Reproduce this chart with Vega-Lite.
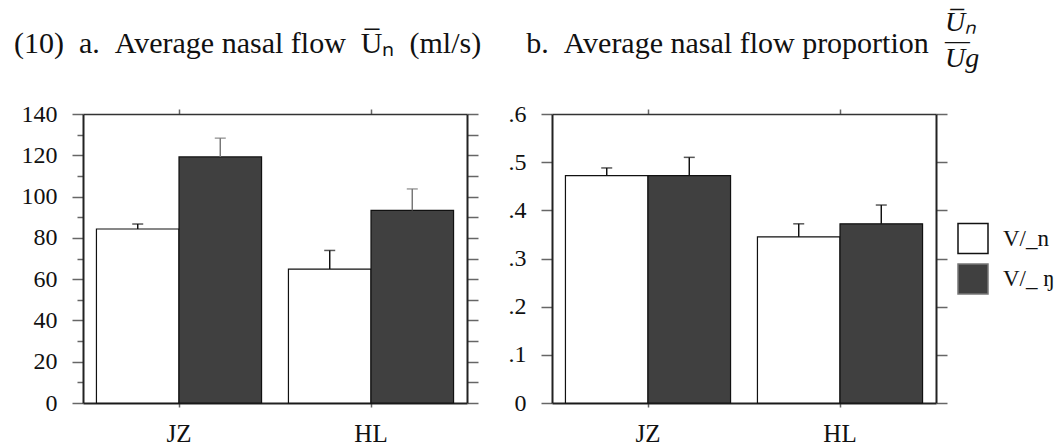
{
  "$schema": "https://vega.github.io/schema/vega-lite/v6.json",
  "background": "white",
  "padding": {"left": 14, "top": 8, "right": 5, "bottom": 0},
  "config": {
    "font": "Liberation Serif",
    "view": {"stroke": null},
    "legend": {"titleFont": "Liberation Serif", "labelFont": "Liberation Serif"},
    "axis": {
      "labelFont": "Liberation Serif",
      "labelColor": "#111",
      "domainColor": "#222",
      "domainWidth": 2,
      "tickColor": "#666",
      "tickWidth": 1.5,
      "grid": false,
      "title": null
    }
  },
  "title": {
    "text": "(10)\u00a0\u00a0a.\u00a0\u00a0Average nasal flow\u00a0\u00a0U\u0305\u2099\u00a0\u00a0(ml/s)\u00a0\u00a0\u00a0\u00a0\u00a0\u00a0b.\u00a0\u00a0Average nasal flow proportion",
    "anchor": "start",
    "font": "Liberation Serif",
    "fontSize": 30,
    "fontWeight": "normal",
    "color": "#111",
    "offset": -50,
    "dx": -7
  },
  "datasets": {
    "flow": [
      {"site": "JZ", "series": "V/_n", "mean": 84.3, "upper": 86.7},
      {"site": "JZ", "series": "V/_ ŋ", "mean": 119.2, "upper": 128.3},
      {"site": "HL", "series": "V/_n", "mean": 64.9, "upper": 73.9},
      {"site": "HL", "series": "V/_ ŋ", "mean": 93.3, "upper": 103.7}
    ],
    "prop": [
      {"site": "JZ", "series": "V/_n", "mean": 0.472, "upper": 0.488},
      {"site": "JZ", "series": "V/_ ŋ", "mean": 0.472, "upper": 0.51},
      {"site": "HL", "series": "V/_n", "mean": 0.345, "upper": 0.372},
      {"site": "HL", "series": "V/_ ŋ", "mean": 0.372, "upper": 0.411}
    ]
  },
  "spacing": 29,
  "hconcat": [
    {
      "width": 384,
      "height": 289,
      "data": {"name": "flow"},
      "resolve": {"axis": {"x": "independent", "y": "independent"}},
      "layer": [
        {
          "mark": {"type": "bar", "stroke": "#111", "strokeWidth": 1.2},
          "encoding": {
            "x": {"field": "site", "type": "nominal", "sort": ["JZ", "HL"],
                  "scale": {"paddingInner": 0.14, "paddingOuter": 0.07},
                  "axis": {"orient": "bottom", "labelAngle": 0, "labelFontSize": 25, "tickSize": 4, "labelPadding": 14, "domainWidth": 2}},
            "xOffset": {"field": "series", "type": "nominal", "sort": ["V/_n", "V/_ ŋ"], "scale": {"paddingInner": 0, "paddingOuter": 0}},
            "y": {"field": "mean", "type": "quantitative", "scale": {"domain": [0, 140], "nice": false},
                  "axis": {"orient": "left", "values": [0,10,20,30,40,50,60,70,80,90,100,110,120,130,140],
                           "tickSize": {"condition": {"test": "datum.value % 20 === 0", "value": 11}, "value": 6},
                           "labelExpr": "datum.value % 20 === 0 ? datum.label : ''",
                           "labelFontSize": 24, "labelPadding": 15}},
            "fill": {"field": "series", "type": "nominal", "sort": ["V/_n", "V/_ ŋ"],
                     "scale": {"domain": ["V/_n", "V/_ ŋ"], "range": ["#ffffff", "#404040"]},
                     "legend": {
                       "orient": "none", "legendX": 862, "legendY": -105.5,
                       "title": ["U\u0305\u2099", "\u2014", "Ug"],
                       "titleFont": "Liberation Serif", "titleFontStyle": "italic", "titleFontWeight": "normal",
                       "titleFontSize": 28, "titleLineHeight": 18, "titlePadding": 150, "titleColor": "#111",
                       "symbolType": "square", "symbolSize": 900, "symbolStrokeColor": "#444", "symbolStrokeWidth": 1.5,
                       "symbolOffset": 12, "labelFont": "Liberation Serif", "labelFontSize": 23, "labelColor": "#111",
                       "labelOffset": 14, "rowPadding": 4.5, "padding": 0
                     }}
          }
        },
        {
          "mark": {"type": "rule", "strokeWidth": 1.5},
          "encoding": {
            "x": {"field": "site", "type": "nominal", "sort": ["JZ", "HL"],
                  "axis": {"orient": "top", "labels": false, "tickSize": 5, "domainColor": "#333", "domainWidth": 1.5}},
            "xOffset": {"field": "series", "type": "nominal", "sort": ["V/_n", "V/_ ŋ"]},
            "y": {"field": "mean", "type": "quantitative",
                  "axis": {"orient": "right", "values": [0,10,20,30,40,50,60,70,80,90,100,110,120,130,140], "labels": false, "tickSize": 11}},
            "y2": {"field": "upper"},
            "color": {"field": "series", "type": "nominal", "sort": ["V/_n", "V/_ ŋ"],
                      "scale": {"domain": ["V/_n", "V/_ ŋ"], "range": ["#111111", "#777777"]}, "legend": null}
          }
        },
        {
          "mark": {"type": "tick", "size": 11, "thickness": 1.5},
          "encoding": {
            "x": {"field": "site", "type": "nominal", "sort": ["JZ", "HL"], "axis": null},
            "xOffset": {"field": "series", "type": "nominal", "sort": ["V/_n", "V/_ ŋ"]},
            "y": {"field": "upper", "type": "quantitative", "axis": null},
            "color": {"field": "series", "type": "nominal", "sort": ["V/_n", "V/_ ŋ"], "legend": null}
          }
        }
      ]
    },
    {
      "width": 384,
      "height": 289,
      "data": {"name": "prop"},
      "resolve": {"axis": {"x": "independent", "y": "independent"}},
      "layer": [
        {
          "mark": {"type": "bar", "stroke": "#111", "strokeWidth": 1.2},
          "encoding": {
            "x": {"field": "site", "type": "nominal", "sort": ["JZ", "HL"],
                  "scale": {"paddingInner": 0.14, "paddingOuter": 0.07},
                  "axis": {"orient": "bottom", "labelAngle": 0, "labelFontSize": 25, "tickSize": 4, "labelPadding": 14, "domainWidth": 2}},
            "xOffset": {"field": "series", "type": "nominal", "sort": ["V/_n", "V/_ ŋ"], "scale": {"paddingInner": 0, "paddingOuter": 0}},
            "y": {"field": "mean", "type": "quantitative", "scale": {"domain": [0, 0.6], "nice": false},
                  "axis": {"orient": "left", "values": [0, 0.1, 0.2, 0.3, 0.4, 0.5, 0.6], "tickSize": 11,
                           "labelExpr": "datum.value == 0 ? '0' : replace(format(datum.value, '.1f'), '0.', '.')",
                           "labelFontSize": 24, "labelPadding": 15}},
            "fill": {"field": "series", "type": "nominal", "sort": ["V/_n", "V/_ ŋ"],
                     "scale": {"domain": ["V/_n", "V/_ ŋ"], "range": ["#ffffff", "#404040"]}}
          }
        },
        {
          "mark": {"type": "rule", "strokeWidth": 1.5, "color": "#111"},
          "encoding": {
            "x": {"field": "site", "type": "nominal", "sort": ["JZ", "HL"],
                  "axis": {"orient": "top", "labels": false, "tickSize": 5, "domainColor": "#333", "domainWidth": 1.5}},
            "xOffset": {"field": "series", "type": "nominal", "sort": ["V/_n", "V/_ ŋ"]},
            "y": {"field": "mean", "type": "quantitative",
                  "axis": {"orient": "right", "values": [0, 0.1, 0.2, 0.3, 0.4, 0.5, 0.6], "labels": false, "tickSize": 11}},
            "y2": {"field": "upper"}
          }
        },
        {
          "mark": {"type": "tick", "size": 11, "thickness": 1.5, "color": "#111"},
          "encoding": {
            "x": {"field": "site", "type": "nominal", "sort": ["JZ", "HL"], "axis": null},
            "xOffset": {"field": "series", "type": "nominal", "sort": ["V/_n", "V/_ ŋ"]},
            "y": {"field": "upper", "type": "quantitative", "axis": null}
          }
        }
      ]
    }
  ]
}
